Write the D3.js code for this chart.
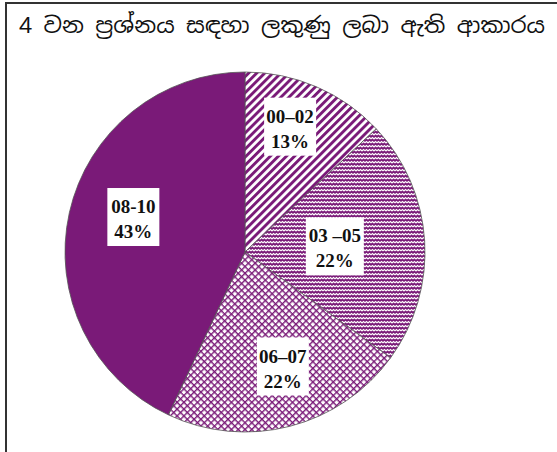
<!DOCTYPE html>
<html>
<head>
<meta charset="utf-8">
<script src="https://cdn.jsdelivr.net/npm/d3@7"></script>
<style>
	body { margin: 0; background: #fff; }
	svg { display: block; }
</style>
</head>
<body>
<div id="chart"></div>
<script>
// chart data
const titleText = '4 වන ප්‍රශ්නය සඳහා ලකුණු ලබා ඇති ආකාරය';
const categories = ['00–02', '03 –05', '06–07', '08-10'];
const shares = [13, 22, 22, 43];

(() => {
	const width = 557;
	const height = 452;
	const purple = '#7a1a78';
	const cx = 245;
	const cy = 252;
	const radius = 180;

	// label placement: fraction of radius and a small turn (degrees) off the slice middle
	const labelRadius = [0.74, 0.5, 0.67, 0.65];
	const labelTurn = [-3.6, 0, -3.9, 4.8];
	const fills = ['url(#stripes)', 'url(#zigzag)', 'url(#lattice)', purple];

	const svg = d3.select('#chart').append('svg')
		.attr('width', width)
		.attr('height', height);

	// patterns
	const defs = svg.append('defs');
	const stripes = defs.append('pattern')
		.attr('id', 'stripes')
		.attr('patternUnits', 'userSpaceOnUse')
		.attr('width', 5.7)
		.attr('height', 10)
		.attr('patternTransform', 'rotate(45)');
	stripes.append('rect').attr('width', 5.7).attr('height', 10).attr('fill', '#fff');
	stripes.append('rect').attr('width', 2.9).attr('height', 10).attr('fill', purple);

	const zigzag = defs.append('pattern')
		.attr('id', 'zigzag')
		.attr('patternUnits', 'userSpaceOnUse')
		.attr('width', 6)
		.attr('height', 4);
	zigzag.append('rect').attr('width', 6).attr('height', 4).attr('fill', purple);
	zigzag.append('path')
		.attr('d', 'M-1,3.5 L1.5,1.5 L3,3 L4.5,1.5 L7,3.5')
		.attr('fill', 'none')
		.attr('stroke', '#fff')
		.attr('stroke-width', 1.1);

	const lattice = defs.append('pattern')
		.attr('id', 'lattice')
		.attr('patternUnits', 'userSpaceOnUse')
		.attr('width', 4.8)
		.attr('height', 4.8)
		.attr('patternTransform', 'rotate(45)');
	lattice.append('rect').attr('width', 4.8).attr('height', 4.8).attr('fill', '#fff');
	lattice.append('rect').attr('width', 4.8).attr('height', 1.4).attr('fill', purple);
	lattice.append('rect').attr('width', 1.4).attr('height', 4.8).attr('fill', purple);

	// frame
	svg.append('line')
		.attr('x1', 5).attr('x2', width)
		.attr('y1', 3).attr('y2', 3)
		.attr('stroke', '#333')
		.attr('stroke-width', 2);
	svg.append('line')
		.attr('x1', 6).attr('x2', 6)
		.attr('y1', 2).attr('y2', height)
		.attr('stroke', '#333')
		.attr('stroke-width', 2);

	svg.append('text')
		.attr('x', 19)
		.attr('y', 33)
		.attr('textLength', 526)
		.attr('lengthAdjust', 'spacingAndGlyphs')
		.style('font-family', '"Noto Sans Sinhala", "Iskoola Pota", "Liberation Serif", serif')
		.style('font-size', '22px')
		.style('fill', '#111')
		.text(titleText);

	const chart = svg.append('g')
		.attr('transform', `translate(${cx}, ${cy})`);

	const pie = d3.pie()
		.sort(null)
		.value(d => d);

	const arc = d3.arc()
		.innerRadius(0)
		.outerRadius(radius);

	const arcs = pie(shares);

	chart.selectAll('.slice')
		.data(arcs)
		.enter()
		.append('path')
		.attr('class', 'slice')
		.attr('d', arc)
		.attr('fill', (d, i) => fills[i])
		.attr('stroke', '#555')
		.attr('stroke-width', 0.8);

	const labels = chart.selectAll('.label')
		.data(arcs)
		.enter()
		.append('g')
		.attr('class', 'label')
		.attr('transform', (d, i) => {
			const r = radius * labelRadius[i];
			const a = (d.startAngle + d.endAngle) / 2 + labelTurn[i] * Math.PI / 180;
			return `translate(${r * Math.sin(a)}, ${-r * Math.cos(a)})`;
		});

	labels.append('rect')
		.attr('x', (d, i) => i === 1 ? -29 : -26)
		.attr('y', -29)
		.attr('width', (d, i) => i === 1 ? 58 : 52)
		.attr('height', 58)
		.attr('fill', '#fff');

	labels.append('text')
		.attr('text-anchor', 'middle')
		.attr('y', -4)
		.style('font-family', '"Liberation Serif", "Times New Roman", serif')
		.style('font-weight', 'bold')
		.style('font-size', '19px')
		.style('fill', '#111')
		.text((d, i) => categories[i]);

	labels.append('text')
		.attr('text-anchor', 'middle')
		.attr('y', 21)
		.style('font-family', '"Liberation Serif", "Times New Roman", serif')
		.style('font-weight', 'bold')
		.style('font-size', '19px')
		.style('fill', '#111')
		.text(d => `${d.data}%`);
})();
</script>
</body>
</html>
